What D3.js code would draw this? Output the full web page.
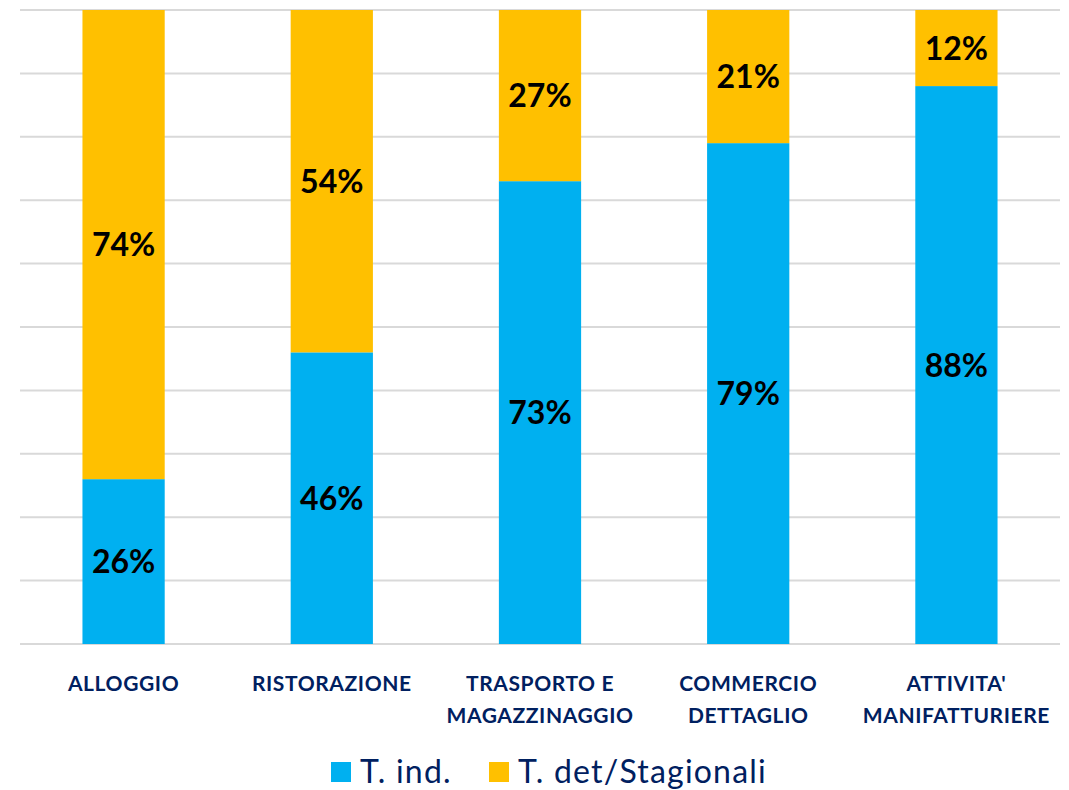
<!DOCTYPE html>
<html>
<head>
<meta charset="utf-8">
<script src="https://cdn.jsdelivr.net/npm/d3@7"></script>
<style>
  body { margin: 0; background: #fff; }
  svg { display: block; }
</style>
</head>
<body>
<div id="chart"></div>
<script>
var categories = [["ALLOGGIO"], ["RISTORAZIONE"], ["TRASPORTO E", "MAGAZZINAGGIO"], ["COMMERCIO", "DETTAGLIO"], ["ATTIVITA'", "MANIFATTURIERE"]];
var tInd = [26, 46, 73, 79, 88];
var tDet = [74, 54, 27, 21, 12];
var seriesNames = ["T. ind.", "T. det/Stagionali"];
var seriesColors = ["#00b0f0", "#ffc000"];

var W = 1069, H = 790;
var margin = { left: 20, right: 9, top: 10, bottom: 146 };

var svg = d3.select("#chart").append("svg")
    .attr("width", W)
    .attr("height", H);

var x = d3.scaleBand()
    .domain(d3.range(categories.length))
    .range([margin.left, W - margin.right])
    .paddingInner(0.605)
    .paddingOuter(0.3);

var y = d3.scaleLinear()
    .domain([0, 100])
    .range([H - margin.bottom, margin.top]);

// gridlines
svg.append("g")
    .selectAll("line")
    .data(y.ticks(10))
    .enter()
    .append("line")
    .attr("x1", margin.left)
    .attr("x2", W - margin.right)
    .attr("y1", function (d) { return y(d); })
    .attr("y2", function (d) { return y(d); })
    .attr("stroke", "#d9d9d9")
    .attr("stroke-width", 2);

var rows = categories.map(function (c, i) {
    return { i: i, ind: tInd[i], det: tDet[i] };
});

// blue part
svg.append("g").selectAll("rect")
    .data(rows).enter().append("rect")
    .attr("x", function (d) { return x(d.i); })
    .attr("width", x.bandwidth())
    .attr("y", function (d) { return y(d.ind); })
    .attr("height", function (d) { return y(0) - y(d.ind); })
    .attr("fill", seriesColors[0]);

// yellow part
svg.append("g").selectAll("rect")
    .data(rows).enter().append("rect")
    .attr("x", function (d) { return x(d.i); })
    .attr("width", x.bandwidth())
    .attr("y", function (d) { return y(d.ind + d.det); })
    .attr("height", function (d) { return y(d.ind) - y(d.ind + d.det); })
    .attr("fill", seriesColors[1]);

var labelFont = "Lato, 'Open Sans', sans-serif";

// value labels
function addLabels(acc, base) {
    svg.append("g").selectAll("text")
        .data(rows).enter().append("text")
        .attr("x", function (d) { return x(d.i) + x.bandwidth() / 2; })
        .attr("y", function (d) { return y(base(d) + acc(d) / 2); })
        .attr("dy", "0.36em")
        .attr("text-anchor", "middle")
        .attr("font-family", labelFont)
        .attr("font-weight", "bold")
        .attr("font-size", 32)
        .attr("fill", "#000")
        .text(function (d) { return acc(d) + "%"; });
}
addLabels(function (d) { return d.ind; }, function () { return 0; });
addLabels(function (d) { return d.det; }, function (d) { return d.ind; });

// category labels
var cat = svg.append("g").selectAll("text")
    .data(rows).enter().append("text")
    .attr("x", function (d) { return x(d.i) + x.bandwidth() / 2; })
    .attr("y", 691)
    .attr("text-anchor", "middle")
    .attr("font-family", labelFont)
    .attr("font-weight", "bold")
    .attr("font-size", 21)
    .attr("letter-spacing", 0.6)
    .attr("fill", "#002060");

cat.selectAll("tspan")
    .data(function (d) { return categories[d.i]; })
    .enter().append("tspan")
    .attr("x", function () { var p = d3.select(this.parentNode).datum(); return x(p.i) + x.bandwidth() / 2; })
    .attr("dy", function (d, j) { return j === 0 ? 0 : 32; })
    .text(function (d) { return d; });

// legend
var legendX = [331, 489];
var leg = svg.append("g").selectAll("g")
    .data(seriesNames).enter().append("g")
    .attr("transform", function (d, i) { return "translate(" + legendX[i] + ",762)"; });

leg.append("rect")
    .attr("width", 20)
    .attr("height", 20)
    .attr("fill", function (d, i) { return seriesColors[i]; });

leg.append("text")
    .attr("x", 29)
    .attr("y", 21)
    .attr("font-family", labelFont)
    .attr("font-size", 32)
    .attr("letter-spacing", 1.2)
    .attr("fill", "#002060")
    .text(function (d) { return d; });
</script>
</body>
</html>
